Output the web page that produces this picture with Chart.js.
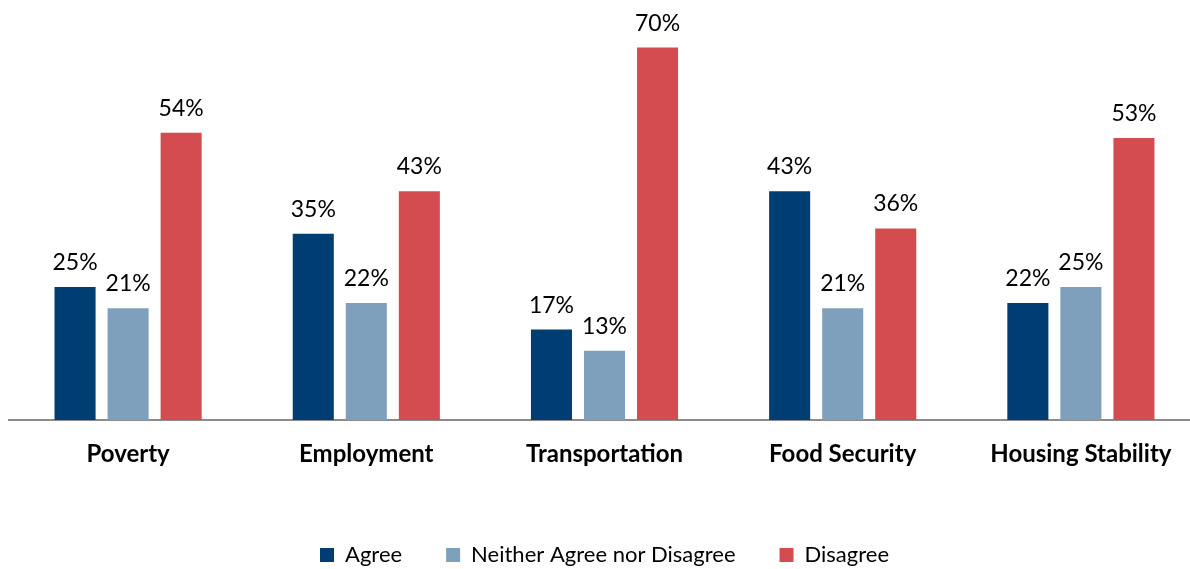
<!DOCTYPE html>
<html>
<head>
<meta charset="utf-8">
<script src="https://cdn.jsdelivr.net/npm/chart.js@4"></script>
<style>
  html, body { margin: 0; padding: 0; background: #fff; overflow: hidden; }
  #wrap { width: 1200px; height: 576px; }
</style>
</head>
<body>
<div id="wrap"><canvas id="chart"></canvas></div>
<script>
const categories = ["Poverty", "Employment", "Transportation", "Food Security", "Housing Stability"]
const agree      = [25, 35, 17, 43, 22]
const neither    = [21, 22, 13, 21, 25]
const disagree   = [54, 43, 70, 36, 53]

const COLORS = {
  agree:    "#003D73",
  neither:  "#7FA0BC",
  disagree: "#D44C50",
}

const FONT = "Lato, Carlito, Calibri, 'Liberation Sans', sans-serif"

// draws "NN%" above every bar
const valueLabels = {
  id: "valueLabels",
  afterDatasetsDraw(chart) {
    const { ctx } = chart
    ctx.save()
    ctx.font = `23px ${FONT}`
    ctx.fillStyle = "#000"
    ctx.textAlign = "center"
    ctx.textBaseline = "alphabetic"
    chart.data.datasets.forEach((ds, i) => {
      chart.getDatasetMeta(i).data.forEach((bar, j) => {
        ctx.fillText(`${ds.data[j]}%`, bar.x, bar.y - 17)
      })
    })
    ctx.restore()
  },
}

new Chart(document.getElementById("chart"), {
  type: "bar",
  data: {
    labels: categories,
    datasets: [
      { label: "Agree", data: agree, backgroundColor: COLORS.agree },
      { label: "Neither Agree nor Disagree", data: neither, backgroundColor: COLORS.neither },
      { label: "Disagree", data: disagree, backgroundColor: COLORS.disagree },
    ],
  },
  options: {
    responsive: true,
    maintainAspectRatio: false,
    animation: false,
    layout: { padding: { top: 21, left: 9, right: 0, bottom: 0 } },
    datasets: {
      bar: { categoryPercentage: 0.668, barPercentage: 0.774 },
    },
    plugins: {
      legend: {
        position: "bottom",
        labels: {
          font: { family: FONT, size: 22 },
          color: "#000",
          boxWidth: 14,
          boxHeight: 14,
          padding: 44,
        },
      },
      tooltip: { enabled: false },
    },
    scales: {
      x: {
        grid: { display: false },
        border: { color: "#8c8c8c", width: 2 },
        ticks: {
          font: { family: FONT, size: 24, weight: "bold" },
          color: "#000",
          padding: 12,
        },
        afterFit(scale) { scale.height = 80 },
      },
      y: {
        display: false,
        min: 0,
        max: 75,
      },
    },
  },
  plugins: [valueLabels],
})
</script>
</body>
</html>
